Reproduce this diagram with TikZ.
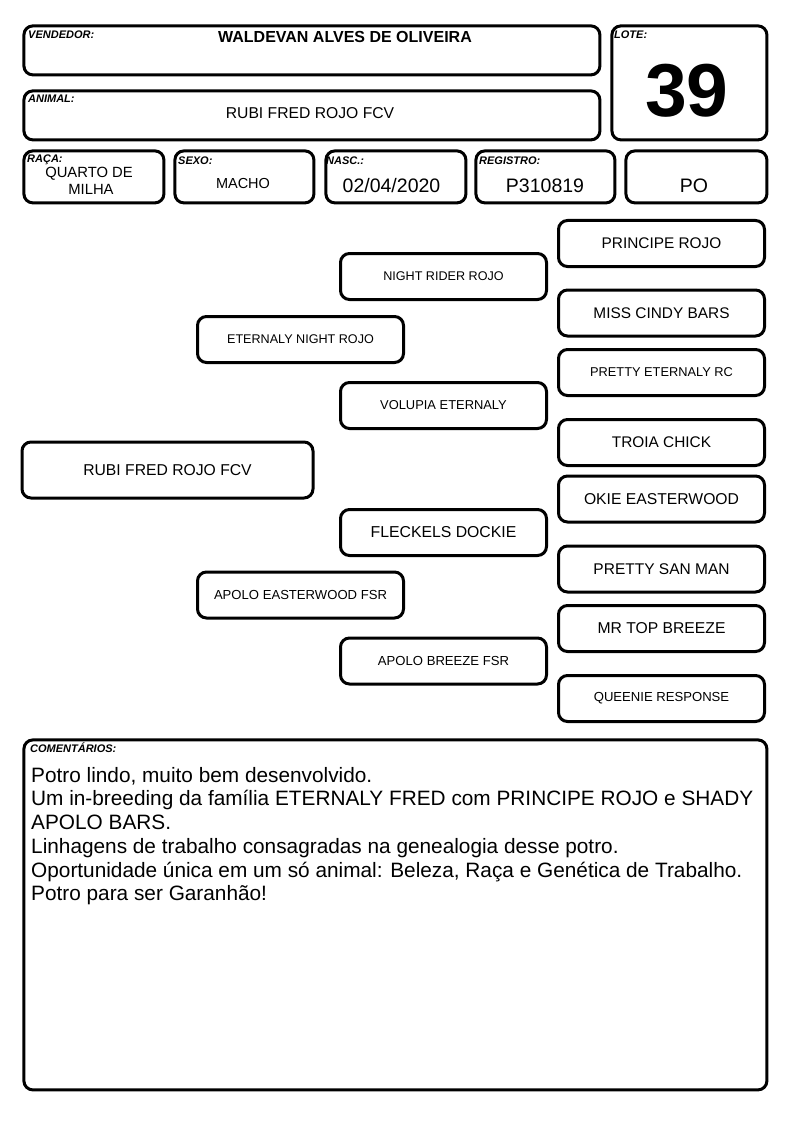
\documentclass[tikz,border=0pt]{standalone}
\usepackage{fontspec}
\setmainfont{Liberation Sans}
\usepackage{tikz}
\newcommand{\clrline}{black}
\newcommand{\clrtext}{black}

\begin{document}
\begin{tikzpicture}[x=1pt, y=-1pt,
    box/.style={draw=\clrline, line width=3pt, rounded corners=9pt, inner sep=0pt, anchor=north west},
    tag/.style={anchor=base west, inner sep=0pt, \clrtext, font=\fontsize{11}{12}\selectfont\bfseries\itshape},
    info/.style={anchor=base, inner sep=0pt, \clrtext},
    horse/.style={draw=\clrline, line width=3pt, rounded corners=9pt, inner sep=0pt, \clrtext,
        minimum width=206pt, minimum height=46pt}]
    \useasboundingbox (0,0) rectangle (794,1123);

    \node[box, minimum width=576pt, minimum height=49pt] (vendedor) at (22.4,24.4) {};
    \node[box, minimum width=576pt, minimum height=49pt] (animal) at (22.4,89.4) {};
    \node[box, minimum width=155pt, minimum height=114pt] (lote) at (610.4,24.4) {};
    \foreach \name/\x/\w in {raca/22.4/140, sexo/173.4/139, nasc/324.4/140, registro/474.4/139, po/624.4/141} {
        \node[box, minimum width=\w pt, minimum height=52pt] (\name) at (\x,149.4) {};
    }
    \node[box, minimum width=743pt, minimum height=350pt] (comentarios) at (22.4,738.4) {};

    \node[tag] (tagvendedor) at (28,39) {VENDEDOR:};
    \node[tag] (taganimal) at (28,103) {ANIMAL:};
    \node[tag] (taglote) at (614,39) {LOTE:};
    \node[tag] (tagraca) at (27,162.5) {RAÇA:};
    \node[tag] (tagsexo) at (178,165) {SEXO:};
    \node[tag] (tagnasc) at (326,165) {NASC.:};
    \node[tag] (tagregistro) at (479,165) {REGISTRO:};
    \node[tag] (tagcomentarios) at (30,752) {COMENTÁRIOS:};

    \node[info, font=\fontsize{16}{18}\selectfont\bfseries] (nomevendedor) at (345,43) {WALDEVAN ALVES DE OLIVEIRA};
    \node[info, font=\fontsize{15.7}{18}\selectfont] (nomeanimal) at (310,119) {RUBI FRED ROJO FCV};
    \node[info, font=\fontsize{75}{80}\selectfont\bfseries] (numlote) at (687,117) {39};
    \node[info, font=\fontsize{14.8}{17}\selectfont] (raca1) at (89,178) {QUARTO DE};
    \node[info, font=\fontsize{14.8}{17}\selectfont] (raca2) at (91,195) {MILHA};
    \node[info, font=\fontsize{14.5}{17}\selectfont] (sexotxt) at (243,189) {MACHO};
    \node[info, font=\fontsize{19.5}{22}\selectfont] (nasctxt) at (391.5,193) {02/04/2020};
    \node[info, font=\fontsize{19.5}{22}\selectfont] (registrotxt) at (545,193) {P310819};
    \node[info, font=\fontsize{19.5}{22}\selectfont] (potxt) at (694,193) {PO};

    \node[horse, minimum width=291pt, minimum height=56pt, font=\fontsize{15.7}{18}\selectfont] (g1) at (167.5,470) {RUBI FRED ROJO FCV};
    \foreach \name/\y/\sz/\txt in {g2a/339.5/12.6/ETERNALY NIGHT ROJO, g2b/595/13.1/APOLO EASTERWOOD FSR} {
        \node[horse, font=\fontsize{\sz}{\sz}\selectfont] (\name) at (300.5,\y) {\txt};
    }
    \foreach \name/\y/\sz/\txt in {g3a/276.5/12.6/NIGHT RIDER ROJO, g3b/405.5/12.9/VOLUPIA ETERNALY,
        g3c/532.5/15.8/FLECKELS DOCKIE, g3d/661/13.1/APOLO BREEZE FSR} {
        \node[horse, font=\fontsize{\sz}{\sz}\selectfont] (\name) at (443.5,\y) {\txt};
    }
    \foreach \name/\y/\sz/\txt in {g4a/243.5/15.4/PRINCIPE ROJO, g4b/313/15.4/MISS CINDY BARS,
        g4c/372.5/12.8/PRETTY ETERNALY RC, g4d/442.5/15.4/TROIA CHICK, g4e/499/15.7/OKIE EASTERWOOD,
        g4f/569/15.5/PRETTY SAN MAN, g4g/628.5/15.7/MR TOP BREEZE, g4h/698.5/13.1/QUEENIE RESPONSE} {
        \node[horse, font=\fontsize{\sz}{\sz}\selectfont] (\name) at (661.5,\y) {\txt};
    }

    \node[anchor=north west, inner sep=0pt, align=left, \clrtext, font=\fontsize{20.8}{23.7}\selectfont] (texto) at (31,767) {Potro lindo, muito bem desenvolvido.\\
        Um in-breeding da família ETERNALY FRED com PRINCIPE ROJO e SHADY\\
        APOLO BARS.\\
        Linhagens de trabalho consagradas na genealogia desse potro.\\
        Oportunidade única em um só animal: Beleza, Raça e Genética de Trabalho.\\
        Potro para ser Garanhão!};
\end{tikzpicture}
\end{document}
